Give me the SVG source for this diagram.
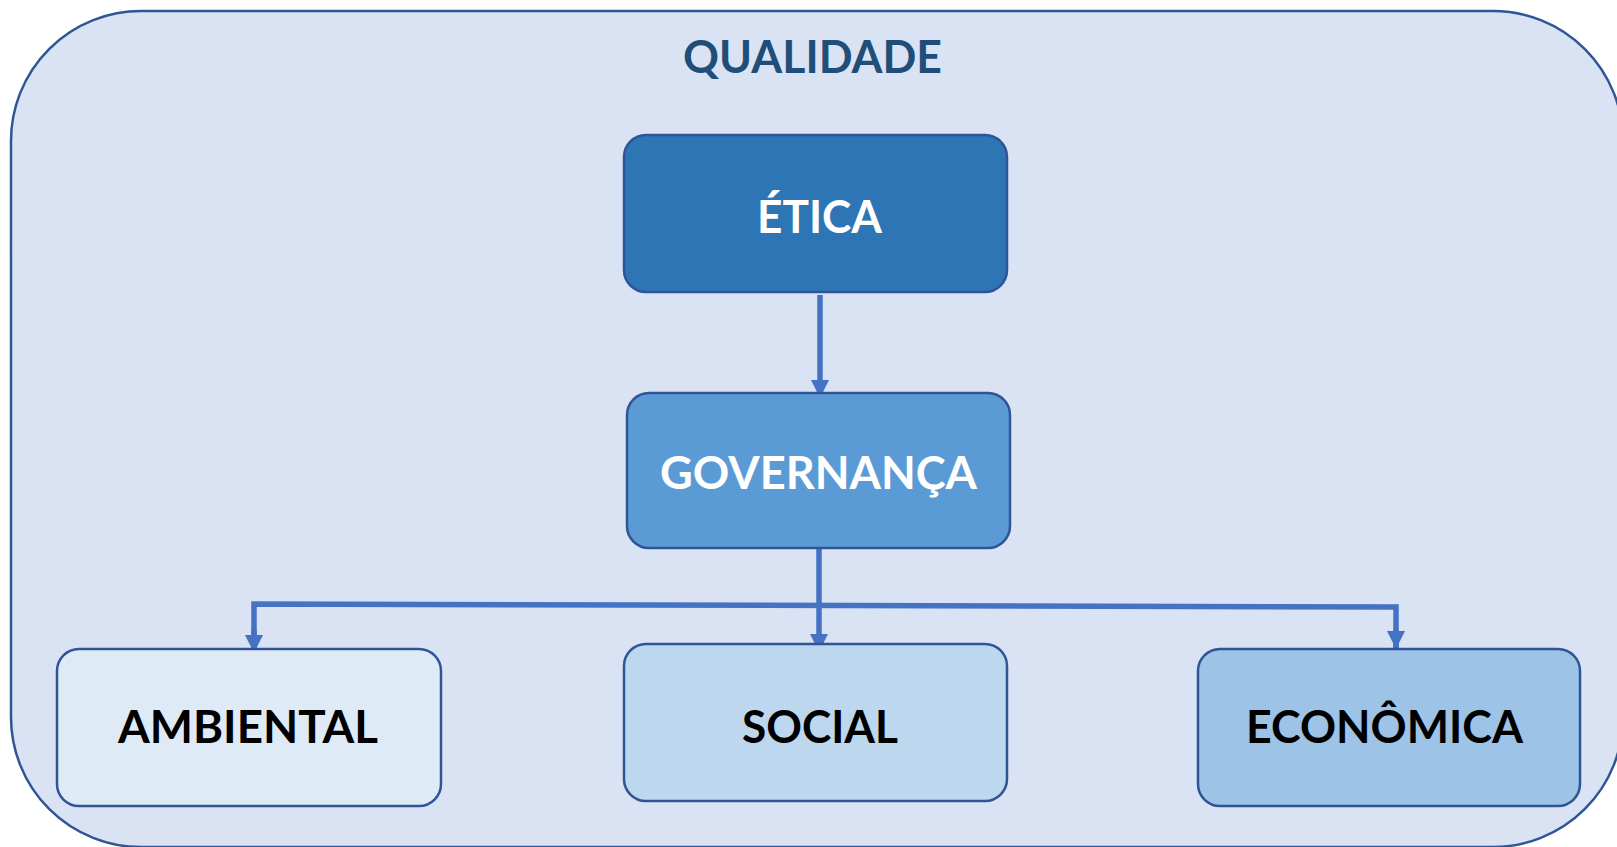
<svg xmlns="http://www.w3.org/2000/svg" width="1617" height="847" viewBox="0 0 1617 847">
  <defs>
    <style>
      .node { stroke: #2F5597; stroke-width: 2.5; }
      .lbl { font-family: Lato, "Open Sans", "Liberation Sans", sans-serif; font-weight: 700; text-anchor: middle; }
      .conn { stroke: #4472C4; stroke-width: 5.5; fill: none; }
    </style>
    <marker id="arr" viewBox="0 0 10 10" refX="10" refY="5" markerUnits="userSpaceOnUse" markerWidth="18" markerHeight="18" orient="auto">
      <path d="M0,0 L10,5 L0,10 Z" fill="#4472C4"/>
    </marker>
  </defs>
  <rect width="1617" height="847" fill="#FFFFFF"/>
  <g id="qualidade">
    <rect x="11" y="11" width="1612" height="836" rx="130" ry="130" fill="#DAE3F3" stroke="#2F5597" stroke-width="2.5"/>
    <text class="lbl" x="812.5" y="73" font-size="46" fill="#1F4E79" textLength="259" lengthAdjust="spacingAndGlyphs">QUALIDADE</text>
  </g>
  <g id="connectors">
    <line class="conn" x1="820" y1="295" x2="820" y2="398" marker-end="url(#arr)"/>
    <line class="conn" x1="819" y1="548" x2="819" y2="652" marker-end="url(#arr)"/>
    <polyline class="conn" points="254,653 254,604 1396,607 1396,649" stroke-linejoin="miter"/>
    <line class="conn" x1="254" y1="630" x2="254" y2="653" marker-end="url(#arr)"/>
    <line class="conn" x1="1396" y1="630" x2="1396" y2="649" marker-end="url(#arr)"/>
  </g>
  <g id="etica">
    <rect class="node" x="624" y="135" width="383" height="157" rx="22" fill="#2E75B6"/>
    <text class="lbl" x="819.5" y="233" font-size="45" fill="#FFFFFF" textLength="125" lengthAdjust="spacingAndGlyphs">ÉTICA</text>
  </g>
  <g id="governanca">
    <rect class="node" x="627" y="393" width="383" height="155" rx="22" fill="#5B9BD5"/>
    <text class="lbl" x="818.5" y="489" font-size="46" fill="#FFFFFF" textLength="317" lengthAdjust="spacingAndGlyphs">GOVERNANÇA</text>
  </g>
  <g id="ambiental">
    <rect class="node" x="57" y="649" width="384" height="157" rx="22" fill="#DEEBF7"/>
    <text class="lbl" x="248" y="743" font-size="46" fill="#000000" textLength="260" lengthAdjust="spacingAndGlyphs">AMBIENTAL</text>
  </g>
  <g id="social">
    <rect class="node" x="624" y="644" width="383" height="157" rx="22" fill="#BDD7EE"/>
    <text class="lbl" x="820" y="743" font-size="46" fill="#000000" textLength="156" lengthAdjust="spacingAndGlyphs">SOCIAL</text>
  </g>
  <g id="economica">
    <rect class="node" x="1198" y="649" width="382" height="157" rx="22" fill="#9DC3E6"/>
    <text class="lbl" x="1384.5" y="743" font-size="46" fill="#000000" textLength="277" lengthAdjust="spacingAndGlyphs">ECONÔMICA</text>
  </g>
</svg>
